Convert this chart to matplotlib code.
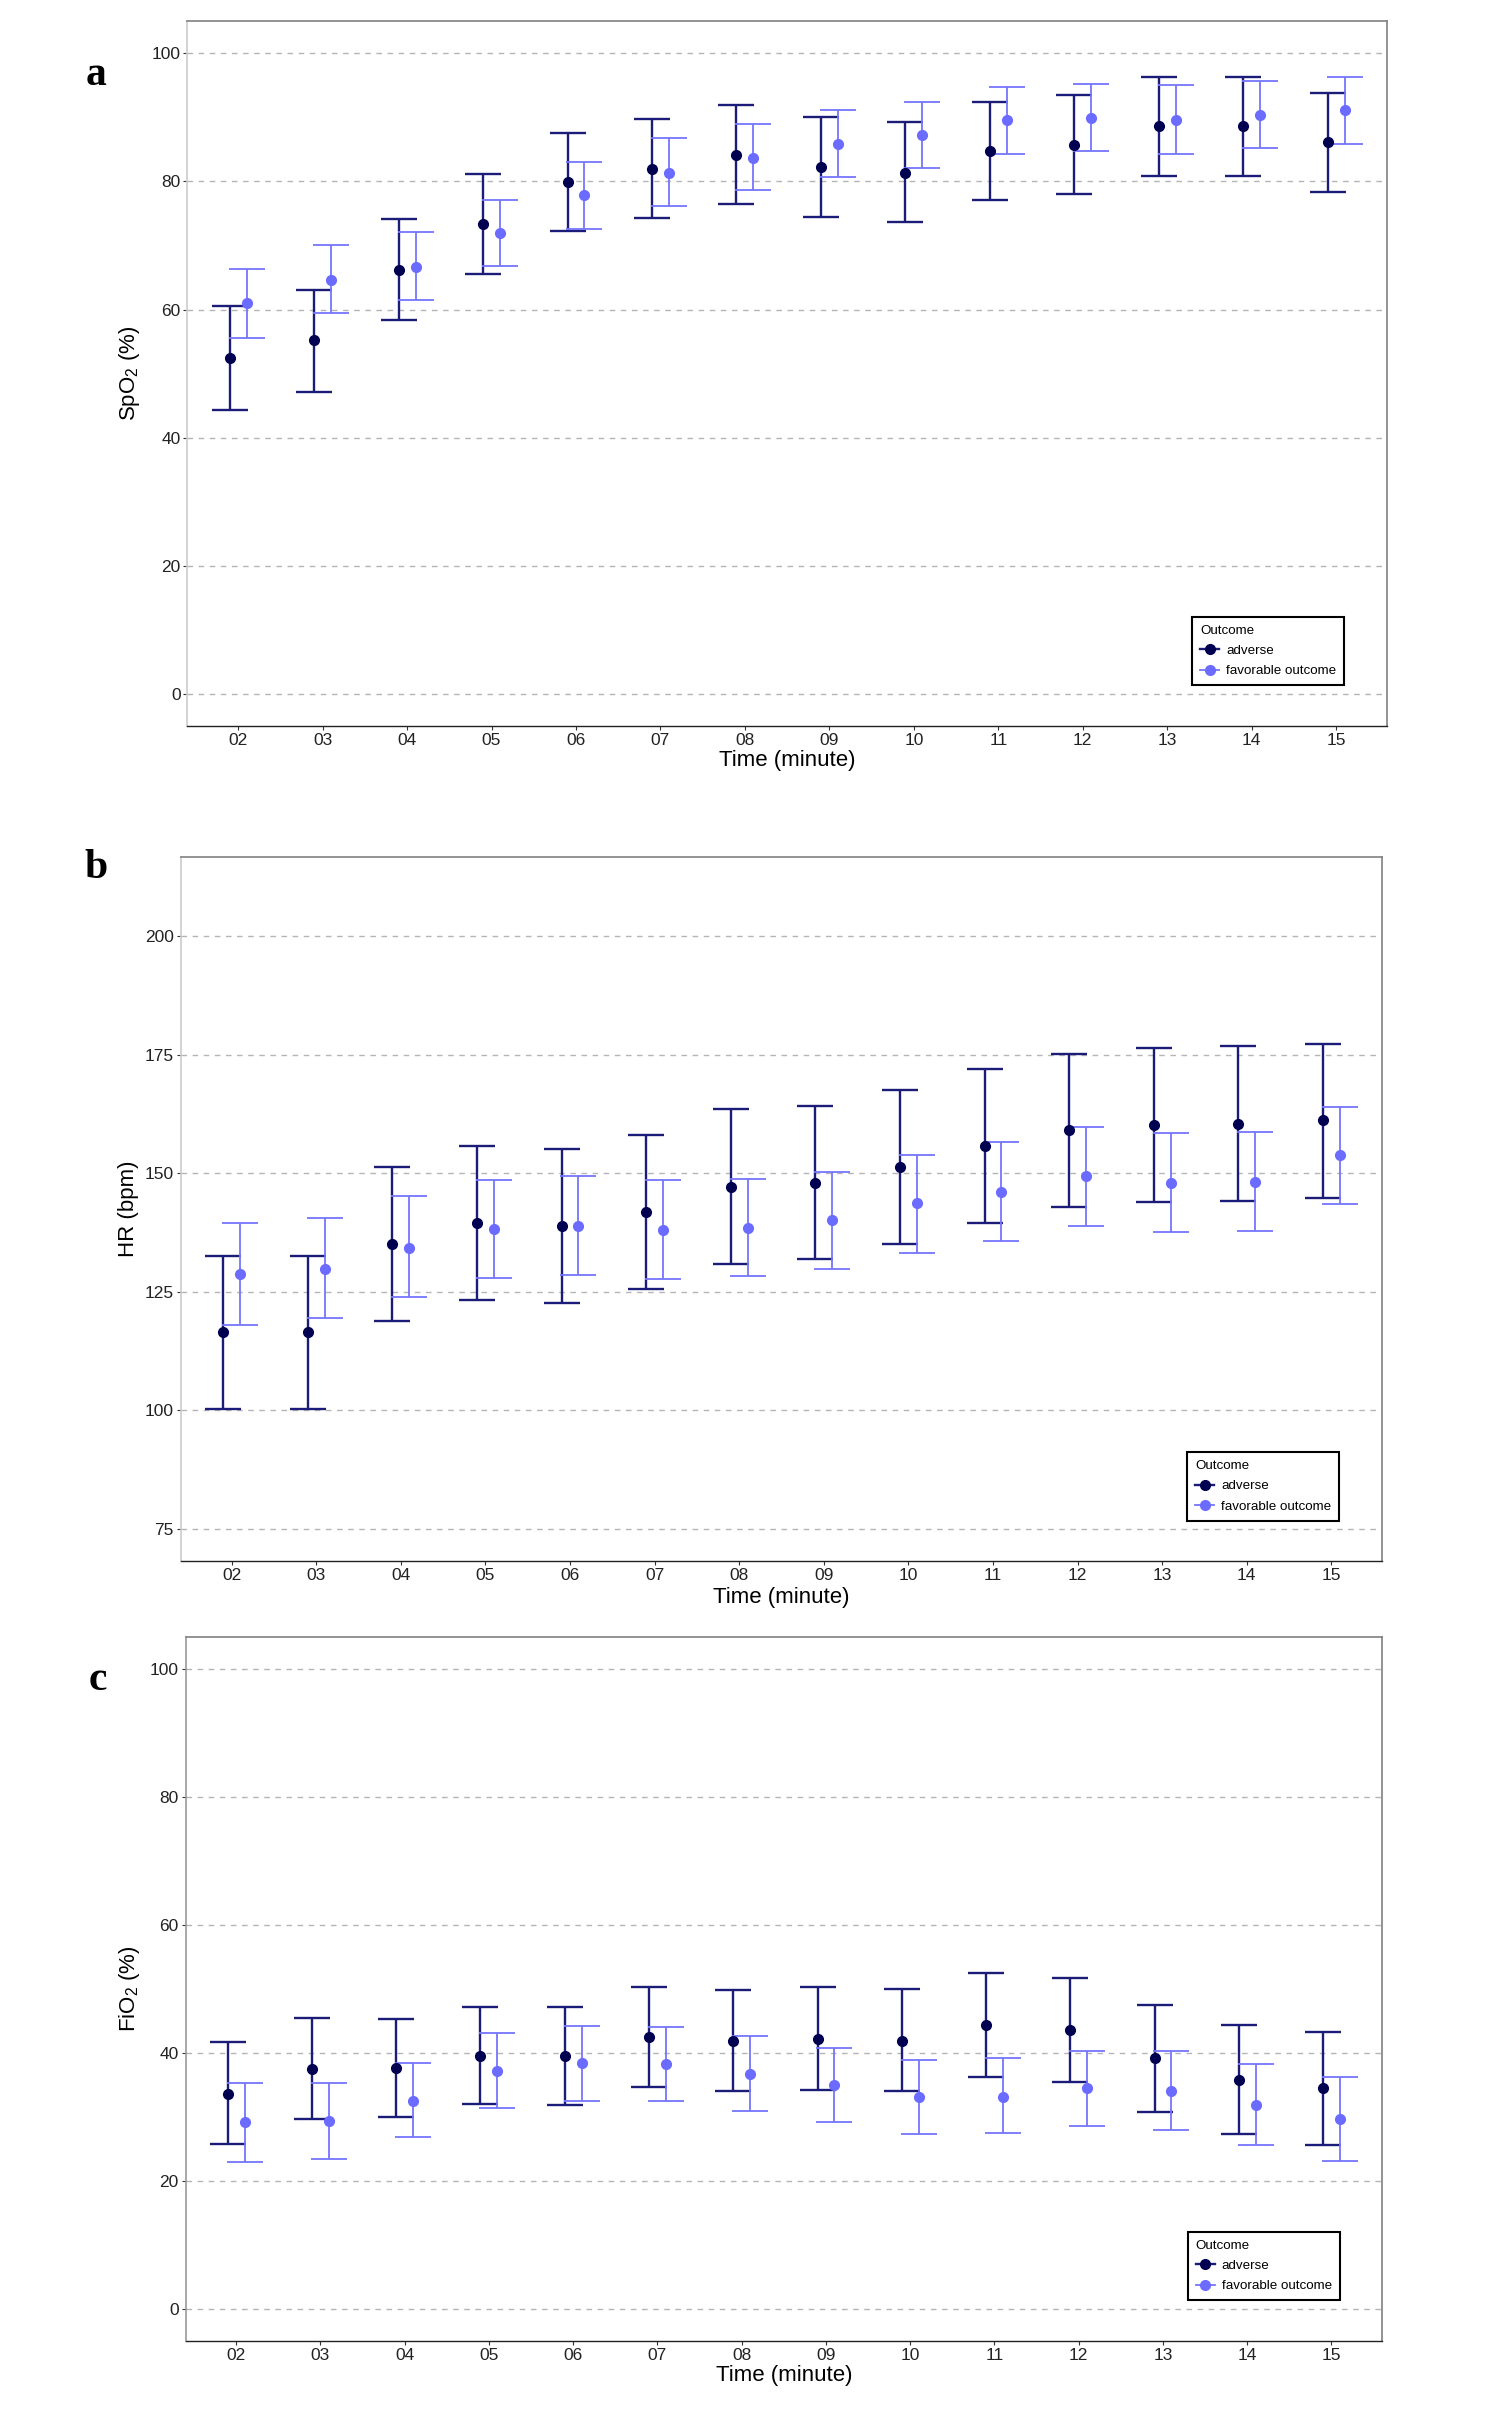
import numpy as np
import matplotlib
matplotlib.use("Agg")
import matplotlib.pyplot as plt
from matplotlib.lines import Line2D

plt.rcParams["font.family"] = ["Liberation Sans", "DejaVu Sans"]
plt.rcParams["mathtext.fontset"] = "custom"
plt.rcParams["mathtext.rm"] = "Liberation Sans"
plt.rcParams["mathtext.it"] = "Liberation Sans"

times = ["02", "03", "04", "05", "06", "07", "08", "09", "10", "11", "12", "13", "14", "15"]

# SpO2 (%)
spo2_adv = [52.4, 55.2, 66.2, 73.4, 79.9, 81.9, 84.1, 82.3, 81.3, 84.7, 85.7, 88.6, 88.6, 86.1]
spo2_adv_lo = [44.3, 47.2, 58.3, 65.5, 72.2, 74.3, 76.5, 74.5, 73.6, 77.1, 78.0, 80.8, 80.8, 78.4]
spo2_adv_hi = [60.5, 63.1, 74.2, 81.2, 87.5, 89.7, 91.9, 90.0, 89.2, 92.4, 93.5, 96.2, 96.2, 93.8]
spo2_fav = [61.0, 64.6, 66.7, 72.0, 77.8, 81.3, 83.7, 85.8, 87.3, 89.5, 89.9, 89.6, 90.4, 91.1]
spo2_fav_lo = [55.5, 59.4, 61.5, 66.8, 72.5, 76.2, 78.6, 80.6, 82.1, 84.3, 84.7, 84.3, 85.2, 85.8]
spo2_fav_hi = [66.4, 70.0, 72.1, 77.1, 83.0, 86.7, 88.9, 91.1, 92.4, 94.7, 95.2, 95.0, 95.7, 96.2]

# HR (bpm)
hr_adv = [116.4, 116.4, 135.0, 139.4, 138.8, 141.9, 147.1, 148.0, 151.3, 155.7, 159.1, 160.1, 160.3, 161.1]
hr_adv_lo = [100.2, 100.2, 118.7, 123.3, 122.6, 125.6, 130.9, 131.9, 135.1, 139.5, 142.8, 143.9, 144.2, 144.8]
hr_adv_hi = [132.6, 132.6, 151.2, 155.7, 155.1, 158.1, 163.5, 164.2, 167.5, 171.9, 175.2, 176.4, 176.8, 177.3]
hr_fav = [128.7, 129.8, 134.3, 138.2, 138.8, 138.1, 138.5, 140.1, 143.6, 146.0, 149.4, 148.0, 148.2, 153.8]
hr_fav_lo = [117.9, 119.4, 123.8, 127.9, 128.5, 127.6, 128.2, 129.7, 133.1, 135.6, 138.8, 137.5, 137.8, 143.4]
hr_fav_hi = [139.5, 140.5, 145.1, 148.5, 149.4, 148.5, 148.8, 150.3, 153.9, 156.6, 159.8, 158.4, 158.6, 164.0]

# FiO2 (%)
fio2_adv = [33.6, 37.5, 37.6, 39.5, 39.5, 42.5, 41.8, 42.1, 41.8, 44.3, 43.5, 39.1, 35.8, 34.4]
fio2_adv_lo = [25.7, 29.7, 30.0, 32.0, 31.8, 34.7, 34.0, 34.2, 34.0, 36.2, 35.4, 30.7, 27.3, 25.5]
fio2_adv_hi = [41.7, 45.4, 45.2, 47.2, 47.2, 50.2, 49.8, 50.2, 49.9, 52.4, 51.7, 47.4, 44.3, 43.2]
fio2_fav = [29.1, 29.3, 32.5, 37.1, 38.4, 38.2, 36.7, 34.9, 33.1, 33.1, 34.4, 34.0, 31.8, 29.6]
fio2_fav_lo = [22.9, 23.4, 26.8, 31.4, 32.5, 32.4, 30.9, 29.1, 27.3, 27.4, 28.5, 27.9, 25.5, 23.1]
fio2_fav_hi = [35.3, 35.3, 38.4, 43.0, 44.1, 44.0, 42.6, 40.7, 38.9, 39.1, 40.3, 40.3, 38.2, 36.2]

adv_pt, adv_bar = "#000050", "#1B1B78"
fav_pt, fav_bar = "#6B6BFF", "#7575FF"

fig = plt.figure(figsize=(14.88, 24.2), dpi=100)

panels = [
    dict(rect=[0.126, 0.6999, 0.806, 0.2914], letter="a", lpos=(96, 75),
         ylabel=r"SpO$_2$ (%)", ylim=(-5, 105), yticks=[0, 20, 40, 60, 80, 100],
         data=(spo2_adv, spo2_adv_lo, spo2_adv_hi, spo2_fav, spo2_fav_lo, spo2_fav_hi),
         ylab_x=-0.048, xlab_y=-0.049, leg=(0.8375, 0.1553), lcol="#CCCCCC"),
    dict(rect=[0.1216, 0.3551, 0.8072, 0.2909], letter="b", lpos=(96, 868),
         ylabel="HR (bpm)", ylim=(68.25, 216.75), yticks=[75, 100, 125, 150, 175, 200],
         data=(hr_adv, hr_adv_lo, hr_adv_hi, hr_fav, hr_fav_lo, hr_fav_hi),
         ylab_x=-0.044, xlab_y=-0.052, leg=(0.8376, 0.1544), lcol="#CCCCCC"),
    dict(rect=[0.1247, 0.0328, 0.8041, 0.2909], letter="c", lpos=(98, 1680),
         ylabel=r"FiO$_2$ (%)", ylim=(-5, 105), yticks=[0, 20, 40, 60, 80, 100],
         data=(fio2_adv, fio2_adv_lo, fio2_adv_hi, fio2_fav, fio2_fav_lo, fio2_fav_hi),
         ylab_x=-0.047, xlab_y=-0.050, leg=(0.8376, 0.155), lcol="#999999"),
]

x = np.arange(1, len(times) + 1)

for p in panels:
    ax = fig.add_axes(p["rect"])
    a_m, a_lo, a_hi, f_m, f_lo, f_hi = [np.array(v) for v in p["data"]]

    ax.errorbar(x - 0.1, a_m, yerr=[a_m - a_lo, a_hi - a_m], fmt="none",
                ecolor=adv_bar, elinewidth=1.7, capsize=13.2, capthick=1.7, zorder=3)
    ax.plot(x - 0.1, a_m, "o", color=adv_pt, markersize=7, zorder=4)
    ax.errorbar(x + 0.1, f_m, yerr=[f_m - f_lo, f_hi - f_m], fmt="none",
                ecolor=fav_bar, elinewidth=1.3, capsize=13.2, capthick=1.3, zorder=3)
    ax.plot(x + 0.1, f_m, "o", color=fav_pt, markersize=7, zorder=4)

    ax.set_xlim(0.4, len(times) + 0.6)
    ax.set_xticks(x)
    ax.set_xticklabels(times)
    ax.set_ylim(*p["ylim"])
    ax.set_yticks(p["yticks"])
    ax.yaxis.grid(True, color="#B5B5B5", linestyle=(0, (4, 4)), linewidth=1.0)
    ax.set_axisbelow(True)
    ax.tick_params(axis="both", labelsize=12.5, length=3, width=0.8,
                   color="#333333", labelcolor="#222222", pad=2)

    for side in ["top", "right"]:
        ax.spines[side].set_color("#808080")
        ax.spines[side].set_linewidth(1.2)
    ax.spines["left"].set_color(p["lcol"])
    ax.spines["left"].set_linewidth(1.2)
    ax.spines["bottom"].set_color("#222222")
    ax.spines["bottom"].set_linewidth(1.0)

    ax.set_ylabel(p["ylabel"], fontsize=16, va="center")
    ax.yaxis.set_label_coords(p["ylab_x"], 0.5)
    ax.set_xlabel("Time (minute)", fontsize=16, va="center")
    ax.xaxis.set_label_coords(0.5, p["xlab_y"])

    handles = [
        Line2D([0], [0], color=adv_bar, lw=1.7, marker="o", markersize=7,
               markerfacecolor=adv_pt, markeredgecolor=adv_pt),
        Line2D([0], [0], color=fav_bar, lw=1.3, marker="o", markersize=7,
               markerfacecolor=fav_pt, markeredgecolor=fav_pt),
    ]
    leg = ax.legend(handles, ["adverse", "favorable outcome"], title="Outcome",
                    loc="upper left", bbox_to_anchor=p["leg"], fontsize=9.6,
                    title_fontsize=9.6, alignment="left", fancybox=False,
                    framealpha=1, edgecolor="black", borderpad=0.6,
                    handlelength=1.45, handletextpad=0.5, labelspacing=0.6,
                    borderaxespad=0)
    leg.get_frame().set_linewidth(1.5)

    fig.text(p["lpos"][0] / 1488, 1 - p["lpos"][1] / 2420, p["letter"],
             family="Liberation Serif", fontweight="bold", fontsize=30,
             ha="center", va="center")

fig.savefig("out.png", dpi=100)
